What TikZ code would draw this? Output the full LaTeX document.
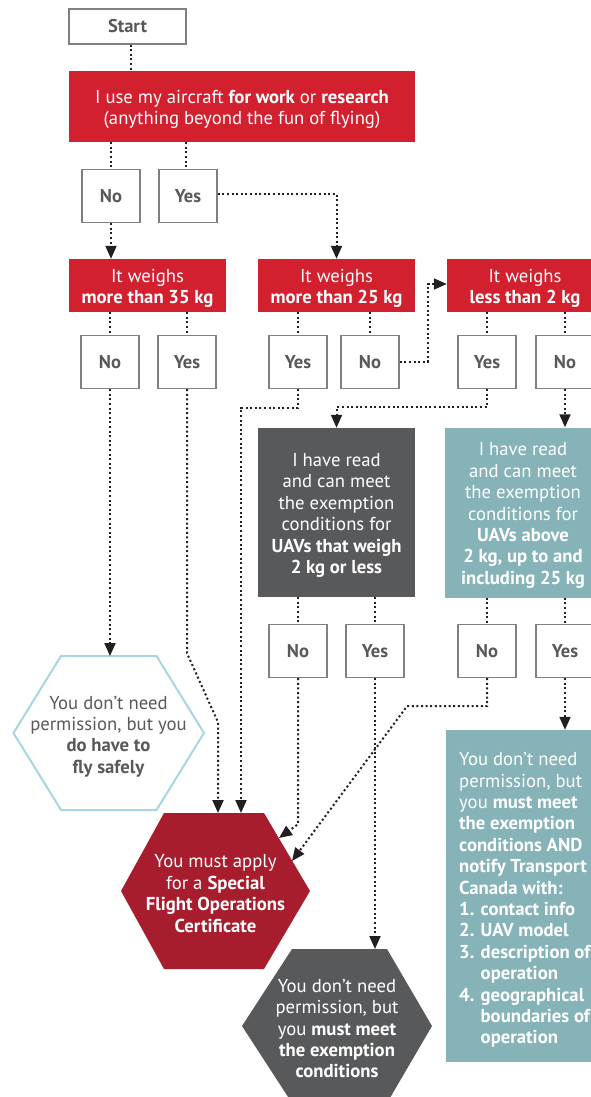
\documentclass[tikz,border=0pt]{standalone}
\usepackage{fontspec}
\setmainfont{PT Sans}
\usetikzlibrary{arrows.meta,calc}
\definecolor{qred}{HTML}{D2202F}
\definecolor{hexred}{HTML}{A81D2D}
\definecolor{dgray}{HTML}{58595B}
\definecolor{teal}{HTML}{85B3B8}
\definecolor{lblue}{HTML}{A8D6E0}
\definecolor{bgray}{HTML}{808080}
\definecolor{dotblack}{HTML}{231F20}
\tikzset{
  txt/.style={font=\fontsize{18.7}{21.4}\selectfont, align=center, inner sep=0pt},
  wtxt/.style={txt, text=white},
  panel/.style={inner sep=0pt},
  ansbox/.style={draw=bgray, line width=1.4pt, fill=white, minimum width=58pt, minimum height=53pt, inner sep=0pt, text=dgray, font=\bfseries\fontsize{18.5}{20}\selectfont},
  dotline/.style={draw=dotblack, line width=2pt, dash pattern=on 2pt off 2.6pt},
  arr/.style={dotline, -{Triangle[length=13pt,width=11pt]}},
}
\begin{document}
\begin{tikzpicture}[x=1pt,y=-1pt]
\useasboundingbox (0,0) rectangle (590,1097);

% ---------- boxes ----------
\node[ansbox, minimum width=117pt, minimum height=35pt] (start) at (127.5,26.5) {Start};
\node[panel, fill=qred, minimum width=346pt, minimum height=71pt] (q1) at (242,106.5) {};
\node[wtxt] (q1t) at ($(q1.center)+(0,3)$)
  {I use my aircraft \textbf{for work} or \textbf{research}\\(anything beyond the fun of flying)};
\node[ansbox] (n1) at (111,196) {No};
\node[ansbox] (y1) at (188,196) {Yes};

\node[panel, fill=qred, minimum width=157pt, minimum height=53pt] (w35) at (147.5,285.5) {};
\node[panel, fill=qred, minimum width=157pt, minimum height=53pt] (w25) at (336.5,285.5) {};
\node[panel, fill=qred, minimum width=156pt, minimum height=53pt] (w2) at (525,285.5) {};
\node[wtxt] (w35t) at ($(w35.center)+(0,3)$) {It weighs\\\textbf{more than 35 kg}};
\node[wtxt] (w25t) at ($(w25.center)+(0,3)$) {It weighs\\\textbf{more than 25 kg}};
\node[wtxt] (w2t) at ($(w2.center)+(0,3)$) {It weighs\\\textbf{less than 2 kg}};

\node[ansbox] (a35n) at (110,362) {No};
\node[ansbox] (a35y) at (187,362) {Yes};
\node[ansbox] (a25y) at (298,362) {Yes};
\node[ansbox] (a25n) at (370,362) {No};
\node[ansbox] (a2y) at (487,362) {Yes};
\node[ansbox] (a2n) at (565,362) {No};

\node[panel, fill=dgray, minimum width=157pt, minimum height=169pt] (g) at (336.5,512.5) {};
\node[wtxt] (gt) at ($(g.center)+(0,3)$)
  {I have read\\and can meet\\the exemption\\conditions for\\\textbf{UAVs that weigh}\\\textbf{2 kg or less}};
\node[panel, fill=teal, minimum width=156pt, minimum height=170pt] (t) at (523,512.5) {};
\node[wtxt] (tt) at ($(t.center)+(0,3)$)
  {I have read\\and can meet\\the exemption\\conditions for\\\textbf{UAVs above}\\\textbf{2 kg, up to and}\\\textbf{including 25 kg}};

\node[ansbox] (gn) at (298,651) {No};
\node[ansbox] (gy) at (375,651) {Yes};
\node[ansbox] (tn) at (487,651) {No};
\node[ansbox] (ty) at (565,651) {Yes};

% ---------- hexagons ----------
\coordinate (hwc) at (108.5,733);
\coordinate (hrc) at (215.5,891);
\coordinate (hdc) at (337,1026);
\draw[lblue, line width=2pt, fill=white] ($(hwc)+(-95,0)$) -- ($(hwc)+(-47.5,-77)$) -- ($(hwc)+(48,-77)$) -- ($(hwc)+(95.5,0)$) -- ($(hwc)+(48,77)$) -- ($(hwc)+(-47.5,77)$) -- cycle;
\fill[hexred] ($(hrc)+(-94.5,0)$) -- ($(hrc)+(-51.5,-78)$) -- ($(hrc)+(48.5,-78)$) -- ($(hrc)+(94.5,0)$) -- ($(hrc)+(48.5,78)$) -- ($(hrc)+(-51.5,78)$) -- cycle;
\fill[dgray] ($(hdc)+(-95,0)$) -- ($(hdc)+(-45,-77)$) -- ($(hdc)+(50,-77)$) -- ($(hdc)+(95,0)$) -- ($(hdc)+(50,77)$) -- ($(hdc)+(-45,77)$) -- cycle;
\node[txt, text=dgray] (hexw) at ($(hwc)+(0,3.5)$) {You don’t need\\permission, but you\\\textbf{do have to}\\\textbf{fly safely}};
\node[wtxt] (hexr) at ($(hrc)+(0,2.5)$) {You must apply\\for a \textbf{Special}\\\textbf{Flight Operations}\\\textbf{Certificate}};
\node[wtxt] (hexd) at ($(hdc)+(0,2.5)$) {You don’t need\\permission, but\\you \textbf{must meet}\\\textbf{the exemption}\\\textbf{conditions}};

% teal bottom box
\node[panel, fill=teal, minimum width=156pt, minimum height=332pt] (tb) at (524,896) {};
\node[wtxt, align=left, anchor=west] (tbtext) at (459,900)
  {You don’t need\\permission, but\\you \textbf{must meet}\\\textbf{the exemption}\\\textbf{conditions AND}\\\textbf{notify Transport}\\\textbf{Canada with:}\\\textbf{1. contact info}\\\textbf{2. UAV model}\\\textbf{3. description of}\\\textbf{\phantom{3. }operation}\\\textbf{4. geographical}\\\textbf{\phantom{4. }boundaries of}\\\textbf{\phantom{4. }operation}};

% arrow targets on hexagon edges
\coordinate (hwtop) at ($(hwc)+(0,-77)$);
\coordinate (hrt1) at (218,813);
\coordinate (hrt2) at (241,813);
\coordinate (hre1) at (279,838);
\coordinate (hre2) at (292,861);
\coordinate (hdtop) at ($(hdc)+(0,-77)$);

% ---------- connectors ----------
\draw[dotline] ([xshift=3pt]start.south) -- ([xshift=3pt]start.south |- q1.north);
\draw[dotline] (n1.north |- q1.south) -- (n1.north);
\draw[dotline] ([xshift=-2pt]y1.north |- q1.south) -- ([xshift=-2pt]y1.north);
\draw[arr] (n1.south) -- (n1.south |- w35.north);
\draw[arr] ([yshift=2pt]y1.east) -| (w25.north);

\foreach \b/\q in {a35n/w35, a35y/w35, a25y/w25, a25n/w25, a2y/w2, a2n/w2}
  \draw[dotline] (\b.north |- \q.south) -- (\b.north);

\draw[arr] (a25n.east) -- ++(28,0) |- ([yshift=1.5pt]w2.west);
\draw[arr] (a35n.south) -- (a35n.south |- hwtop);
\draw[arr] (a35y.south) -- ++(0,264) -- ++(31,69) -- (hrt1);
\draw[arr] (a25y.south) -- ++(0,18.5) -| (hrt2);
\draw[arr] (a2y.south) -- ++(0,18) -| (g.north);
\draw[arr] (a2n.south) -- (a2n.south |- t.north);

\foreach \b/\q in {gn/g, gy/g, tn/t, ty/t}
  \draw[dotline] (\b.north |- \q.south) -- (\b.north);

\draw[arr] (gn.south) -- ++(0,146) -- (hre1);
\draw[arr] (tn.south) -- ++(0,28) -- ++(-80,0) -- (hre2);
\draw[arr] (gy.south) -- (gy.south |- hdtop);
\draw[arr] (ty.south) -- (ty.south |- tb.north);
\end{tikzpicture}
\end{document}
